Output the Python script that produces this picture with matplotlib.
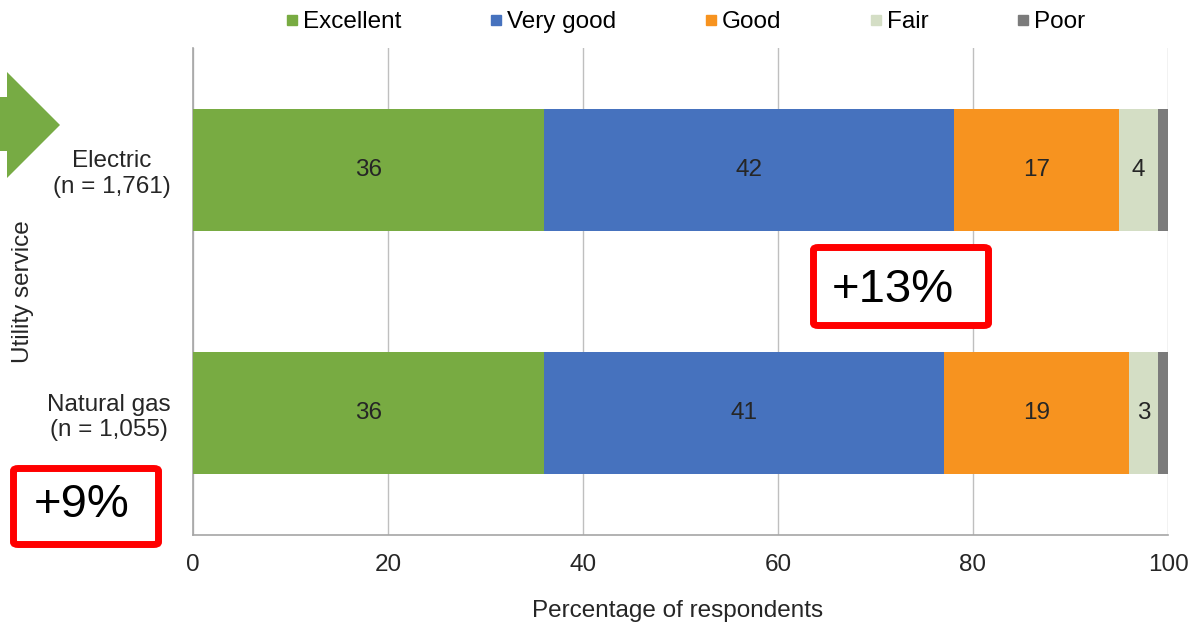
import numpy as np
import matplotlib
matplotlib.use("Agg")
import matplotlib.pyplot as plt
from matplotlib.lines import Line2D
from matplotlib.patches import FancyBboxPatch, Polygon

# Survey ratings by utility service (percent of respondents)
services = ["Electric\n(n = 1,761)", "Natural gas\n(n = 1,055)"]
ratings = ["Excellent", "Very good", "Good", "Fair", "Poor"]
excellent = [36, 36]
very_good = [42, 41]
good = [17, 19]
fair = [4, 3]
poor = [1, 1]
xticks = [0, 20, 40, 60, 80, 100]
callouts = ["+13%", "+9%"]

colors = ["#78AB42", "#4672BE", "#F7931F", "#D4DEC5", "#7B7B7B"]
font = "Liberation Sans"
fs = 17.5

W, H = 1192, 625
fig = plt.figure(figsize=(W / 100, H / 100), dpi=100)
fig.patch.set_facecolor("white")


def px(x, y):
    return (x / W, 1 - y / H)


ax = fig.add_axes([193 / W, 1 - 535 / H, (1168 - 193) / W, (535 - 48) / H])

series = [excellent, very_good, good, fair, poor]
y = np.arange(len(services))
left = np.zeros(len(services))
for name, vals, col in zip(ratings, series, colors):
    vals = np.array(vals, dtype=float)
    ax.barh(y, vals, left=left, height=0.5, color=col, label=name, zorder=3)
    if name != "Poor":
        for yi, (l, v) in enumerate(zip(left, vals)):
            ax.text(l + v / 2, yi, f"{v:g}", ha="center", va="center",
                    fontsize=fs, family=font, color="#262626", zorder=4)
    left += vals

ax.set_xlim(0, 100)
ax.set_ylim(len(services) - 0.5, -0.5)
ax.set_xticks(xticks)
ax.set_xticklabels([str(t) for t in xticks], fontsize=fs, family=font, color="#262626")
ax.set_yticks(y)
ax.set_yticklabels(services, fontsize=fs, family=font, color="#262626")
for lab in ax.get_yticklabels():
    lab.set_multialignment("center")
ax.tick_params(axis="both", length=0)
ax.tick_params(axis="x", pad=14)
ax.tick_params(axis="y", pad=16)

ax.grid(axis="x", color="#BFBFBF", lw=1, zorder=0)
ax.set_axisbelow(True)
for s in ["top", "right"]:
    ax.spines[s].set_visible(False)
for s in ["left", "bottom"]:
    ax.spines[s].set_color("#A6A6A6")
    ax.spines[s].set_linewidth(1.2)

ax.set_xlabel("Percentage of respondents", fontsize=fs, family=font, color="#262626")
ax.xaxis.set_label_coords(0.497, (535 - 600) / 487)
ax.set_ylabel("Utility service", fontsize=fs, family=font, color="#262626")
ax.yaxis.set_label_coords((34 - 193) / 975, 0.5)

handles = [Line2D([], [], marker="s", linestyle="none", markersize=6.5,
                  markerfacecolor=c, markeredgecolor=c) for c in colors]
fig.legend(handles, ratings, loc="center", bbox_to_anchor=(686 / W, 1 - 22 / H),
           ncol=5, frameon=False, handlelength=0.4, handletextpad=0.25,
           columnspacing=3.7, prop={"family": font, "size": fs})

# Green arrow pointing at the first row
arrow_pts = [(0, 97), (7, 97), (7, 72), (60, 125), (7, 178), (7, 151), (0, 151)]
fig.patches.append(Polygon([px(a, b) for a, b in arrow_pts], closed=True,
                           transform=fig.transFigure, facecolor="#77AB44",
                           edgecolor="none"))

# Red callout boxes
boxes = [((813.5, 247.5, 992 - 3.5, 325.5), (893, 290)),
         ((13.5, 468.5, 158.5, 544.5), (82, 505))]
for text, ((x0, y0, x1, y1), (tx, ty)) in zip(callouts, boxes):
    bx0, by0 = px(x0, y1)
    bx1, by1 = px(x1, y0)
    fig.patches.append(FancyBboxPatch((bx0, by0), bx1 - bx0, by1 - by0,
                                      boxstyle="round,pad=0,rounding_size=0.004",
                                      transform=fig.transFigure, facecolor="white",
                                      edgecolor="#FF0000", linewidth=5))
    fig.text(*px(tx, ty), text, ha="center", va="center", fontsize=34,
             family=font, color="black")

fig.savefig("out.png", dpi=100)
